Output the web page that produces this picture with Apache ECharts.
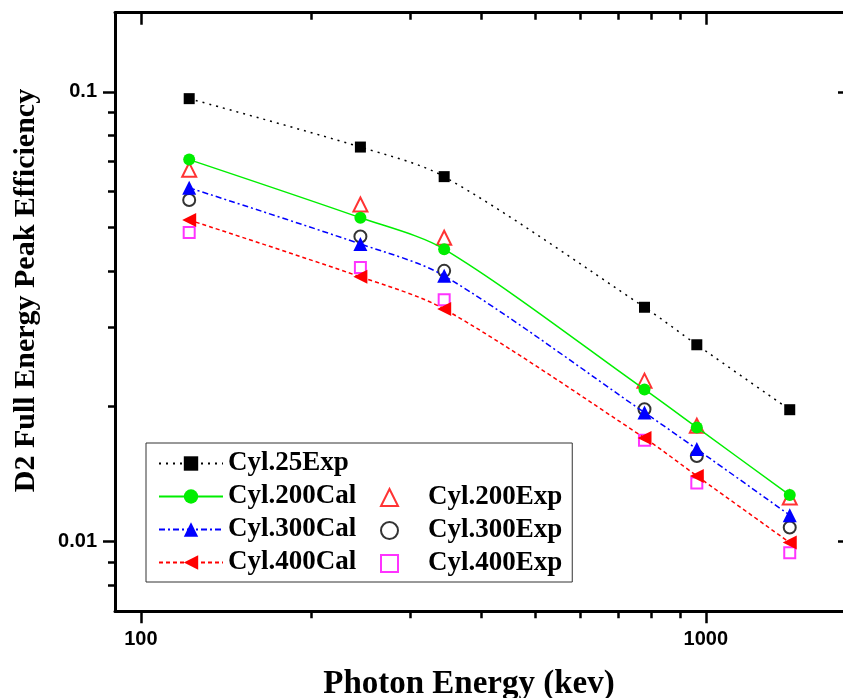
<!DOCTYPE html>
<html><head><meta charset="utf-8">
<script src="https://cdn.jsdelivr.net/npm/echarts@6/dist/echarts.min.js"></script>
<style>html,body{margin:0;padding:0;background:#fff}#c{width:843px;height:698px}</style>
</head><body><div id="c"></div>
<script>
const energies = [121.78, 244.7, 344.28, 778.9, 964.08, 1408.0];
const cyl25Exp  = [0.0966, 0.0754, 0.0648, 0.0332, 0.0274, 0.01965];
const cyl200Cal = [0.0707, 0.0525, 0.0447, 0.0218, 0.01794, 0.01269];
const cyl200Exp = [0.0671, 0.0562, 0.0474, 0.0228, 0.0181, 0.01253];
const cyl300Cal = [0.0612, 0.0459, 0.0390, 0.01937, 0.01606, 0.01145];
const cyl300Exp = [0.0575, 0.0477, 0.0400, 0.0197, 0.0155, 0.01075];
const cyl400Cal = [0.0519, 0.0388, 0.0329, 0.0170, 0.0140, 0.00995];
const cyl400Exp = [0.0487, 0.0407, 0.0345, 0.0168, 0.0135, 0.00945];

const xMajorTicks = [100, 1000];
const xMinorTicks = [200, 300, 400, 500, 600, 700, 800, 900];
const yMajorTicks = [0.01, 0.1];
const yMinorTicks = [0.008, 0.009, 0.02, 0.03, 0.04, 0.05, 0.06, 0.07, 0.08, 0.09];

const xMin = 90, xMax = 1800, yMin = 0.007, yMax = 0.15;
const fmt = v => String(+(+v).toPrecision(6));
const pairs = ys => energies.map((e, i) => [e, ys[i]]);

function axis(kind, pos, ticks, len, inside, showLine, showLabel, extra) {
  return Object.assign({
    type: 'log', logBase: 10,
    min: kind === 'x' ? xMin : yMin, max: kind === 'x' ? xMax : yMax,
    position: pos,
    axisLine: { show: showLine, onZero: false, lineStyle: { color: '#000', width: 3 } },
    axisTick: { show: true, inside: inside, length: len, customValues: ticks, lineStyle: { color: '#000', width: 2.5 } },
    axisLabel: { show: showLabel, customValues: ticks, formatter: fmt, margin: 18,
      fontFamily: 'Liberation Sans', fontWeight: 'bold', fontSize: 20, color: '#000' },
    splitLine: { show: false }, minorTick: { show: false }, minorSplitLine: { show: false }
  }, extra || {});
}

const chart = echarts.init(document.getElementById('c'), null, { renderer: 'canvas' });
const legendText = { fontFamily: 'Liberation Serif', fontWeight: 'bold', fontSize: 27, color: '#000' };
const SMOOTH = 0.3;

chart.setOption({
  backgroundColor: '#fff',
  animation: false,
  grid: { left: 115, top: 12.7, width: 735, height: 598.6, containLabel: false, outerBoundsMode: 'none' },
  xAxis: [
    axis('x', 'bottom', xMajorTicks, 12, false, true, true, {
      name: 'Photon Energy (kev)', nameLocation: 'middle', nameGap: 57,
      nameTextStyle: { fontFamily: 'Liberation Serif', fontWeight: 'bold', fontSize: 33, color: '#000', padding: [0, 27, 0, 0] }
    }),
    axis('x', 'bottom', xMinorTicks, 7, false, false, false),
    axis('x', 'top', xMajorTicks, 12, true, true, false),
    axis('x', 'top', xMinorTicks, 7, true, false, false)
  ],
  yAxis: [
    axis('y', 'left', yMajorTicks, 12, false, true, true, {
      name: 'D2 Full Energy Peak Efficiency', nameLocation: 'middle', nameGap: 74,
      nameTextStyle: { fontFamily: 'Liberation Serif', fontWeight: 'bold', fontSize: 30, color: '#000', padding: [0, 0, 0, 43] }
    }),
    axis('y', 'left', yMinorTicks, 7, false, false, false),
    axis('y', 'right', yMajorTicks, 12, true, true, false),
    axis('y', 'right', yMinorTicks, 7, true, false, false)
  ],
  legend: [
    {
      data: ['Cyl.25Exp', 'Cyl.200Cal', 'Cyl.300Cal', 'Cyl.400Cal'],
      orient: 'vertical', left: 146, top: 443,
      itemWidth: 64, itemHeight: 18, itemGap: 6,
      padding: [7, 216, 6, 12],
      borderColor: '#333', borderWidth: 1, backgroundColor: '#fff',
      textStyle: legendText, selectedMode: false
    },
    {
      data: ['Cyl.200Exp', 'Cyl.300Exp', 'Cyl.400Exp'],
      orient: 'vertical', left: 380, top: 484,
      itemWidth: 17, itemHeight: 17, itemGap: 6, padding: 0,
      textStyle: Object.assign({ padding: [0, 0, 0, 25] }, legendText), selectedMode: false
    }
  ],
  series: [
    { name: 'Cyl.25Exp', type: 'line', data: pairs(cyl25Exp), smooth: SMOOTH,
      symbol: 'rect', symbolSize: 11, itemStyle: { color: '#000' },
      lineStyle: { color: '#000', width: 1.5, type: [2, 5] } },
    { name: 'Cyl.200Cal', type: 'line', data: pairs(cyl200Cal), smooth: SMOOTH,
      symbol: 'circle', symbolSize: 12, itemStyle: { color: '#00ee00' },
      lineStyle: { color: '#00ee00', width: 1.5, type: 'solid' } },
    { name: 'Cyl.300Cal', type: 'line', data: pairs(cyl300Cal), smooth: SMOOTH,
      symbol: 'triangle', symbolSize: 14, itemStyle: { color: '#0000ff' },
      lineStyle: { color: '#0000ff', width: 1.5, type: [6, 3, 2, 3] } },
    { name: 'Cyl.400Cal', type: 'line', data: pairs(cyl400Cal), smooth: SMOOTH,
      symbol: 'triangle', symbolRotate: 90, symbolSize: 14, itemStyle: { color: '#ff0000' },
      lineStyle: { color: '#ff0000', width: 1.5, type: [4, 3] } },
    { name: 'Cyl.200Exp', type: 'scatter', data: pairs(cyl200Exp),
      symbol: 'emptyTriangle', symbolSize: 14, itemStyle: { color: '#ff0000', borderWidth: 1.3 } },
    { name: 'Cyl.300Exp', type: 'scatter', data: pairs(cyl300Exp),
      symbol: 'emptyCircle', symbolSize: 12, itemStyle: { color: '#000', borderWidth: 1.3 } },
    { name: 'Cyl.400Exp', type: 'scatter', data: pairs(cyl400Exp),
      symbol: 'emptyRect', symbolSize: 11, itemStyle: { color: '#ff00ff', borderWidth: 1.3 } }
  ]
});
</script></body></html>
